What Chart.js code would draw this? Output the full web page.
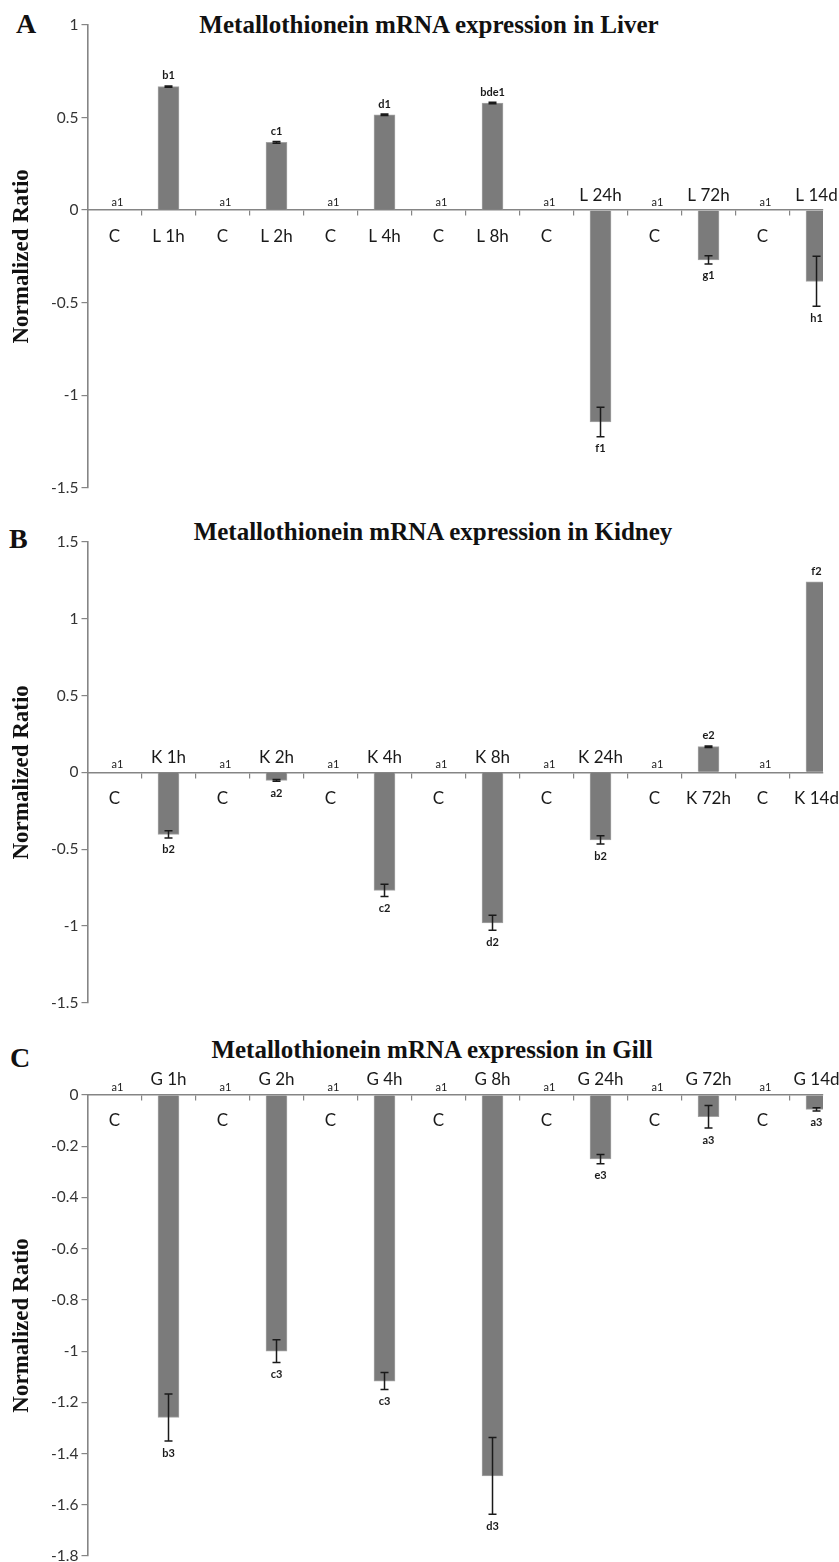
<!DOCTYPE html>
<html>
<head>
<meta charset="utf-8">
<script src="https://cdn.jsdelivr.net/npm/chart.js@4.4.1/dist/chart.umd.min.js"></script>
<style>
  html, body { margin: 0; padding: 0; background: #fff; overflow: hidden; width: 839px; height: 1562px; }
  .panel { position: absolute; left: 0; width: 839px; }
  .tag { position: absolute; font-family: "Liberation Serif", "Times New Roman", serif; font-weight: bold; font-size: 28px; line-height: 28px; color: #111; }
  .title { position: absolute; transform: translateX(-50%); white-space: nowrap; font-family: "Liberation Serif", "Times New Roman", serif; font-weight: bold; font-size: 25px; line-height: 25px; color: #111; }
</style>
</head>
<body>
<div class="tag" style="left:16px; top:10px;">A</div>
<div class="title" style="left:429px; top:12px;">Metallothionein mRNA expression in Liver</div>
<div class="panel" style="top:0; height:500px;"><canvas id="liverChart"></canvas></div>

<div class="tag" style="left:9px; top:525px;">B</div>
<div class="title" style="left:433px; top:519px;">Metallothionein mRNA expression in Kidney</div>
<div class="panel" style="top:500px; height:515px;"><canvas id="kidneyChart"></canvas></div>

<div class="tag" style="left:10px; top:1044px;">C</div>
<div class="title" style="left:432px; top:1037px;">Metallothionein mRNA expression in Gill</div>
<div class="panel" style="top:1020px; height:560px;"><canvas id="gillChart"></canvas></div>

<script>
// Data per jaringan (C = kontrol)
const liverLabels = ['C', 'L 1h', 'C', 'L 2h', 'C', 'L 4h', 'C', 'L 8h', 'C', 'L 24h', 'C', 'L 72h', 'C', 'L 14d'];
const liverValues = [0, 0.667, 0, 0.366, 0, 0.515, 0, 0.578, 0, -1.145, 0, -0.269, 0, -0.385];
const liverErrors = [0, 0.004, 0, 0.005, 0, 0.004, 0, 0.004, 0, 0.08, 0, 0.022, 0, 0.135];
const liverLetters = ['a1', 'b1', 'a1', 'c1', 'a1', 'd1', 'a1', 'bde1', 'a1', 'f1', 'a1', 'g1', 'a1', 'h1'];

const kidneyLabels = ['C', 'K 1h', 'C', 'K 2h', 'C', 'K 4h', 'C', 'K 8h', 'C', 'K 24h', 'C', 'K 72h', 'C', 'K 14d'];
const kidneyValues = [0, -0.404, 0, -0.052, 0, -0.769, 0, -0.98, 0, -0.44, 0, 0.167, 0, 1.24];
const kidneyErrors = [0, 0.023, 0, 0.006, 0, 0.04, 0, 0.049, 0, 0.027, 0, 0.005, 0, 0];
const kidneyLetters = ['a1', 'b2', 'a1', 'a2', 'a1', 'c2', 'a1', 'd2', 'a1', 'b2', 'a1', 'e2', 'a1', 'f2'];

const gillLabels = ['C', 'G 1h', 'C', 'G 2h', 'C', 'G 4h', 'C', 'G 8h', 'C', 'G 24h', 'C', 'G 72h', 'C', 'G 14d'];
const gillValues = [0, -1.259, 0, -1.0, 0, -1.117, 0, -1.487, 0, -0.25, 0, -0.085, 0, -0.056];
const gillErrors = [0, 0.092, 0, 0.044, 0, 0.033, 0, 0.15, 0, 0.018, 0, 0.044, 0, 0.006];
const gillLetters = ['a1', 'b3', 'a1', 'c3', 'a1', 'c3', 'a1', 'd3', 'a1', 'e3', 'a1', 'a3', 'a1', 'a3'];

const axisGrey = '#858585';

function makeChart(canvasId, labels, values, errors, letters, yMin, yMax, step, pad) {
    // Label kategori, huruf signifikansi dan error bar digambar di sini
    const marks = {
        id: 'marks',
        afterDatasetsDraw(chart) {
            const { ctx, scales: { x, y } } = chart;
            const y0 = y.getPixelForValue(0);
            ctx.save();
            ctx.textAlign = 'center';
            ctx.textBaseline = 'middle';
            values.forEach((v, i) => {
                const cx = x.getPixelForValue(i);
                const err = errors[i];
                if (v !== 0 && err > 0) {
                    const hi = y.getPixelForValue(v + err);
                    const lo = y.getPixelForValue(v - err);
                    ctx.strokeStyle = '#1a1a1a';
                    ctx.lineWidth = 1.5;
                    ctx.beginPath();
                    ctx.moveTo(cx, hi); ctx.lineTo(cx, lo);
                    ctx.moveTo(cx - 4, hi); ctx.lineTo(cx + 4, hi);
                    ctx.moveTo(cx - 4, lo); ctx.lineTo(cx + 4, lo);
                    ctx.stroke();
                }
                ctx.fillStyle = '#1a1a1a';
                ctx.font = '17px Lato';
                ctx.fillText(labels[i], cx, v < 0 ? y0 - 15 : y0 + 26);

                if (v === 0) {
                    ctx.font = '11px Lato';
                    ctx.fillText(letters[i], cx + 3, y0 - 8);
                } else if (v > 0) {
                    ctx.font = 'bold 11px Lato';
                    ctx.fillText(letters[i], cx, y.getPixelForValue(v + err) - 10);
                } else {
                    ctx.font = 'bold 11px Lato';
                    ctx.fillText(letters[i], cx, y.getPixelForValue(v - err) + 12);
                }
            });
            ctx.restore();
        }
    };

    return new Chart(document.getElementById(canvasId), {
        type: 'bar',
        data: {
            datasets: [{
                // kontrol bernilai 0 -> tidak ada batang
                data: values.map((v, i) => ({ x: i, y: v === 0 ? null : v })),
                backgroundColor: '#7b7b7b',
                borderColor: '#a3a3a3',
                borderWidth: 1,
                barThickness: 21,
                clip: 0
            }]
        },
        options: {
            responsive: true,
            maintainAspectRatio: false,
            animation: false,
            layout: { padding: pad },
            plugins: { legend: { display: false }, tooltip: { enabled: false } },
            scales: {
                x: {
                    type: 'linear',
                    position: { y: 0 },
                    min: -0.5,
                    max: 13.12, // grafik asli terpotong di sisi kanan
                    offset: false,
                    afterBuildTicks: scale => {
                        scale.ticks = labels.slice(1).map((_, k) => ({ value: k + 0.5 }));
                    },
                    ticks: { display: false },
                    grid: { offset: false, drawOnChartArea: false, drawTicks: true, tickLength: 5, color: axisGrey, lineWidth: 1.2 },
                    border: { display: true, color: axisGrey, width: 1.6 }
                },
                y: {
                    min: yMin,
                    max: yMax,
                    afterFit: scale => { scale.width = 87.5; },
                    ticks: {
                        stepSize: step,
                        padding: 3,
                        color: '#333',
                        font: { family: 'Lato', size: 15.5 },
                        callback: v => String(+v.toFixed(2))
                    },
                    grid: { drawOnChartArea: false, drawTicks: true, tickLength: 6, color: axisGrey, lineWidth: 1.2 },
                    border: { display: true, color: axisGrey, width: 1.6 },
                    title: {
                        display: true,
                        text: 'Normalized Ratio',
                        color: '#111',
                        padding: { top: 8, bottom: 0 },
                        font: { family: 'Liberation Serif', size: 23, weight: 'bold' }
                    }
                }
            }
        },
        plugins: [marks]
    });
}

document.addEventListener('DOMContentLoaded', function () {
    makeChart('liverChart', liverLabels, liverValues, liverErrors, liverLetters, -1.5, 1, 0.5,
        { top: 25, bottom: 12, left: 0, right: 16 });
    makeChart('kidneyChart', kidneyLabels, kidneyValues, kidneyErrors, kidneyLetters, -1.5, 1.5, 0.5,
        { top: 42, bottom: 11, left: 0, right: 16 });
    makeChart('gillChart', gillLabels, gillValues, gillErrors, gillLetters, -1.8, 0, 0.2,
        { top: 75, bottom: 24, left: 0, right: 16 });
});
</script>
</body>
</html>
